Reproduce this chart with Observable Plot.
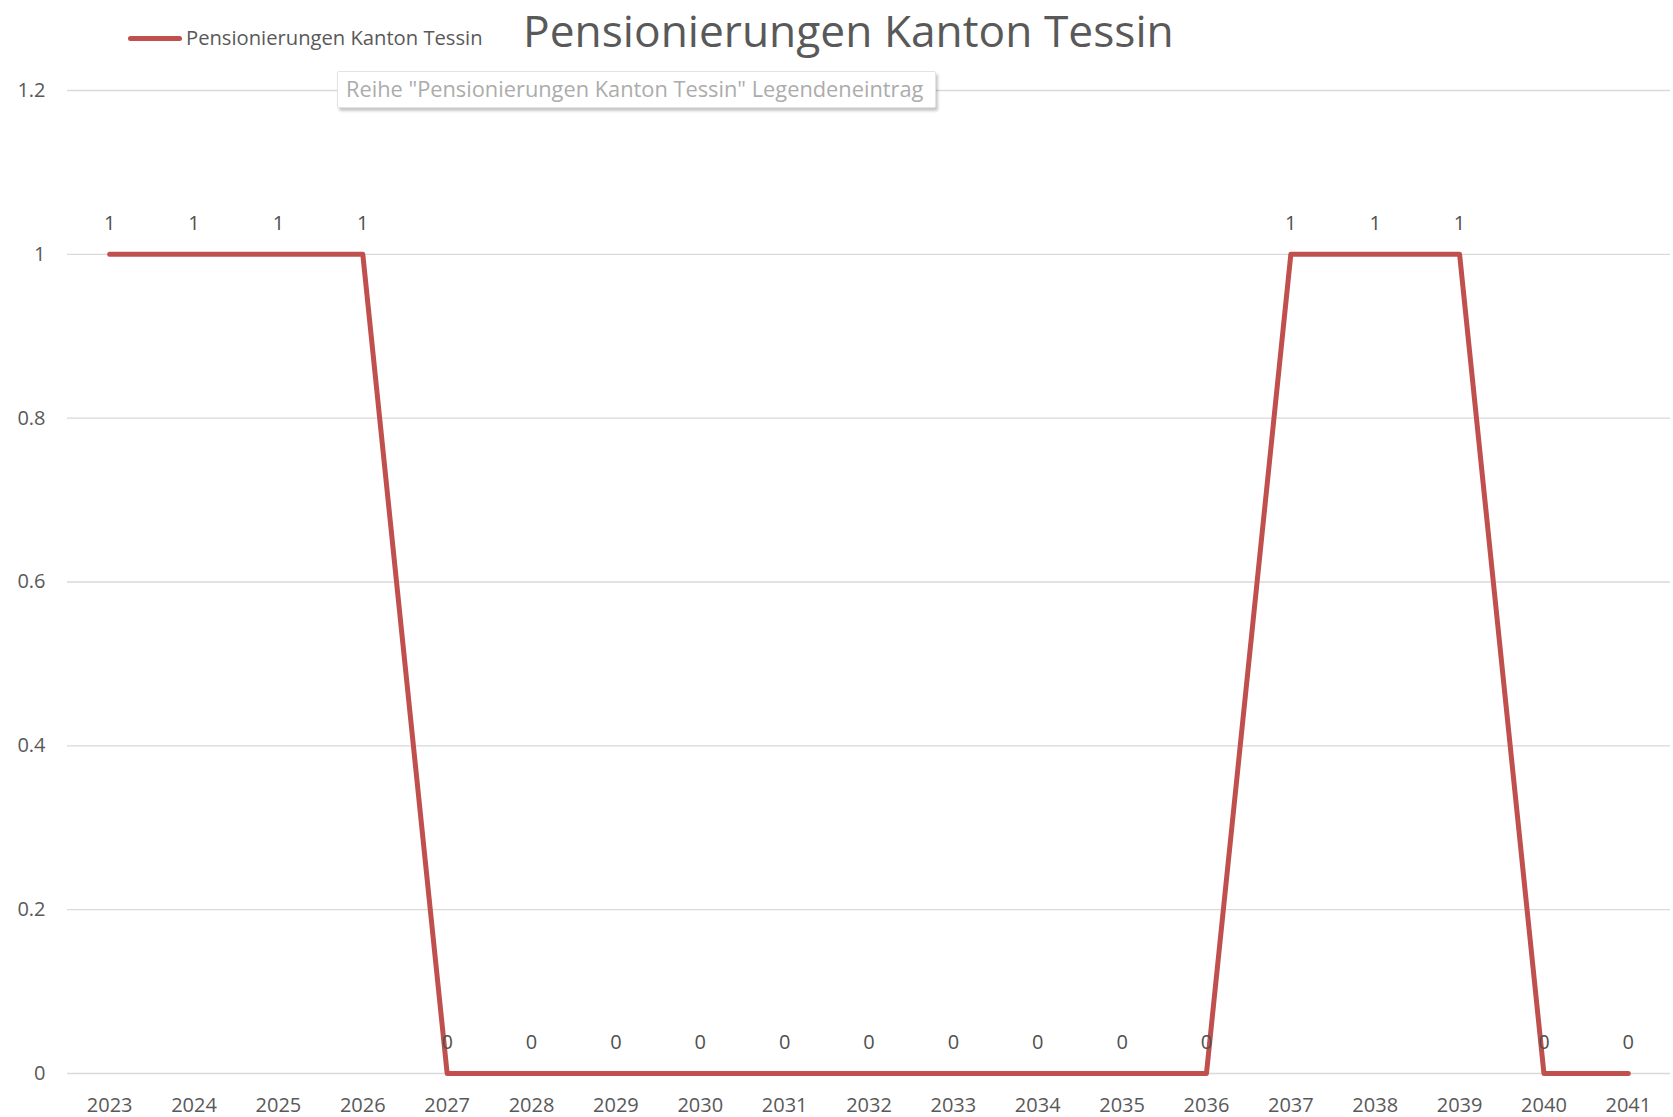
<!DOCTYPE html>
<html>
<head>
<meta charset="utf-8">
<script src="https://cdn.jsdelivr.net/npm/d3@7"></script>
<script src="https://cdn.jsdelivr.net/npm/@observablehq/plot@0.6"></script>
<style>
  html, body { margin: 0; padding: 0; background: #ffffff; }
  #page { position: relative; width: 1673px; height: 1117px; overflow: hidden; font-family: "Open Sans", sans-serif; }
  #header { position: relative; width: 1673px; height: 60px; }
  #swatch { position: absolute; left: 128px; top: 36px; width: 54px; height: 5px; background: #c0504d; border-radius: 2.5px; }
  #legendText { position: absolute; left: 186px; top: 27px; font-size: 20.2px; line-height: 20px; color: #595959; white-space: nowrap; }
  #title { position: absolute; left: 523px; top: 8px; font-size: 44.3px; line-height: 44px; color: #595959; white-space: nowrap; }
  #tip { position: absolute; left: 337px; top: 71px; width: 597px; height: 35px; background: #ffffff; border: 1px solid #e3e3e3; border-radius: 2px; box-shadow: 2px 3px 3px rgba(0,0,0,0.22); z-index: 5; }
  #tipText { position: absolute; left: 8px; top: 5px; font-size: 21.8px; line-height: 24px; color: #acacac; white-space: nowrap; }
  #chart svg { display: block; }
</style>
</head>
<body>
<div id="page">
  <div id="header">
    <div id="swatch"></div>
    <div id="legendText"></div>
    <div id="title"></div>
  </div>
  <div id="tip"><div id="tipText"></div></div>
  <div id="chart"></div>
</div>
<script>
const chartTitle = "Pensionierungen Kanton Tessin";
const seriesName = "Pensionierungen Kanton Tessin";
const tooltipText = "Reihe \"Pensionierungen Kanton Tessin\" Legendeneintrag";
const years = ["2023","2024","2025","2026","2027","2028","2029","2030","2031","2032","2033","2034","2035","2036","2037","2038","2039","2040","2041"];
const values = [1,1,1,1,0,0,0,0,0,0,0,0,0,0,1,1,1,0,0];
const yTicks = [0, 0.2, 0.4, 0.6, 0.8, 1, 1.2];

document.getElementById("title").textContent = chartTitle;
document.getElementById("legendText").textContent = seriesName;
document.getElementById("tipText").textContent = tooltipText;

const data = years.map((y, i) => ({year: y, value: values[i]}));

const chart = Plot.plot({
  width: 1673,
  height: 1057,
  marginTop: 30,
  marginBottom: 44,
  marginLeft: 67,
  marginRight: 3,
  style: {fontFamily: "Open Sans, sans-serif", fontSize: "20px", color: "#595959", background: "#ffffff"},
  x: {type: "point", domain: years, padding: 0.5, round: false, label: null},
  y: {domain: [0, 1.2], label: null},
  marks: [
    Plot.gridY(yTicks, {stroke: "#d9d9d9", strokeOpacity: 1, strokeWidth: 1.3}),
    Plot.axisY(yTicks, {tickSize: 0, tickPadding: 22, tickFormat: d => String(d), label: null, fontSize: 20}),
    Plot.axisX(years, {tickSize: 0, tickPadding: 24, label: null, fontSize: 20}),
    Plot.line(data, {x: "year", y: "value", stroke: "#c0504d", strokeWidth: 5, strokeLinejoin: "round", strokeLinecap: "round"}),
    Plot.text(data, {x: "year", y: "value", text: d => String(d.value), dy: -31, fill: "#505050", fontSize: 20})
  ]
});
document.getElementById("chart").appendChild(chart);
</script>
</body>
</html>
